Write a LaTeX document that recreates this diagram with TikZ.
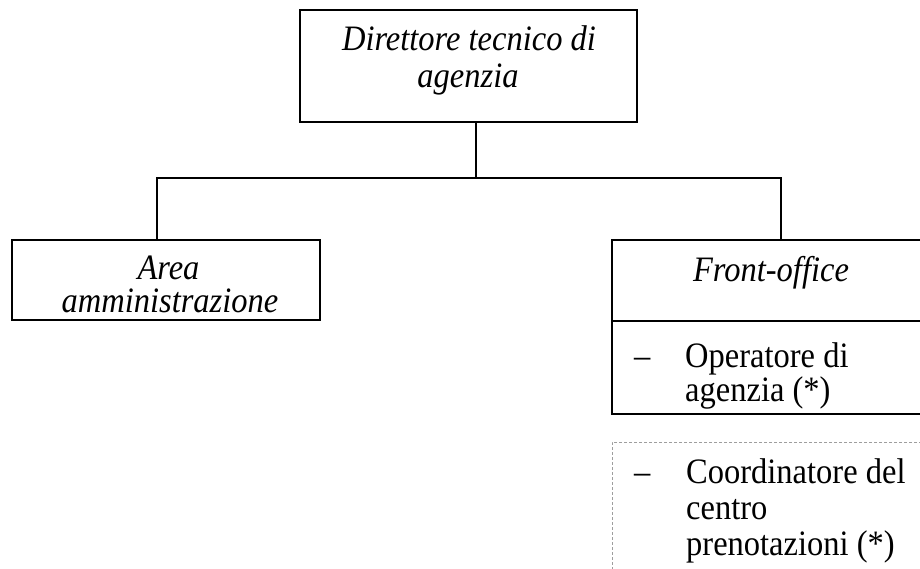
\documentclass[tikz,border=0pt]{standalone}
\usepackage{fontspec}
\setmainfont{Liberation Serif}
\newcommand{\vstr}[1]{\scalebox{1}[1.1]{#1}}
\begin{document}
\begin{tikzpicture}[x=1pt,y=-1pt,
  boxline/.style={line width=1.6pt},
  box/.style={draw,boxline,inner sep=0pt,minimum width=#1},
  lbl/.style={inner sep=0pt,font=\fontsize{32.5}{34}\selectfont},
  itl/.style={lbl,anchor=base,font=\fontsize{32.5}{34}\selectfont\itshape},
  itm/.style={lbl,anchor=base west},
  greybox/.style={draw=black!38,line width=0.9pt,densely dashed}]
\useasboundingbox (0,0) rectangle (920,569);
\clip (0,0) rectangle (920,569);
% boxes
\node[box=337pt,minimum height=112pt] (top) at (468.5,66) {};
\node[box=308pt,minimum height=80pt] (left) at (166,280) {};
\node[box=316pt,minimum height=174pt] (right) at (770,327) {};
\node[draw=none,inner sep=0pt,minimum width=316pt,minimum height=81pt] (rtop) at (770,280.5) {};
\draw[boxline] (rtop.south west) -- (rtop.south east);
\node[greybox,inner sep=0pt,minimum width=320pt,minimum height=140pt] (grey) at (772,512) {};
% connectors
\coordinate (jm) at (476,178);
\coordinate (jl) at (157,178);
\coordinate (jr) at (781,178);
\draw[boxline] (top.south -| jm) -- (jm);
\draw[boxline] (left.north -| jl) -- (jl) -- (jr) -- (right.north -| jr);
% texts
\node[itl] (t1) at (469,51) {\vstr{Direttore tecnico di}};
\node[itl] (t2) at (468,88) {\vstr{agenzia}};
\node[itl] (a1) at (168.5,279) {\vstr{Area}};
\node[itl] (a2) at (170,312) {\vstr{amministrazione}};
\node[itl] (f1) at (771,281) {\vstr{Front-office}};
\node[itm] (d1) at (634,367) {\vstr{–}};
\node[itm] (o1) at (685,367) {\vstr{Operatore di}};
\node[itm] (o2) at (685,401) {\vstr{agenzia (*)}};
\node[itm] (d2) at (634,483) {\vstr{–}};
\node[itm] (c1) at (686,483) {\vstr{Coordinatore del}};
\node[itm] (c2) at (686,519) {\vstr{centro}};
\node[itm] (c3) at (686,555) {\vstr{prenotazioni (*)}};
\end{tikzpicture}
\end{document}
